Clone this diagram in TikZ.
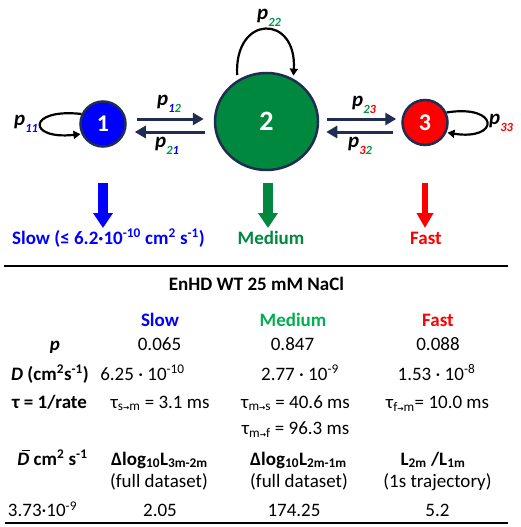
\documentclass[tikz,border=0pt]{standalone}
\usepackage{fontspec}
\setmainfont{Carlito}
\newfontfamily\djv{DejaVu Sans}
\usetikzlibrary{arrows.meta,calc,shapes.geometric}
\definecolor{navy}{RGB}{30,45,80}
\definecolor{sblue}{RGB}{0,0,255}
\definecolor{cgreen}{RGB}{0,136,62}
\definecolor{sgreen}{RGB}{0,150,70}
\definecolor{tgreen}{RGB}{0,176,80}
\definecolor{sred}{RGB}{255,0,0}
\newcommand{\plab}[2]{{\fontsize{21}{21}\selectfont\bfseries\itshape p}\raisebox{-7pt}{\fontsize{12.5}{12.5}\selectfont\bfseries\itshape #1#2}}
\newcommand{\arr}{{\djv\fontsize{7.5}{7.5}\selectfont\bfseries →}}
\newcommand{\Dbar}{\leavevmode\rlap{\kern0.22em\raisebox{0.72em}{\rule{0.42em}{0.075em}}}\textit{D}}
\begin{document}
\begin{tikzpicture}[x=1pt,y=-1pt,
  state/.style={circle, draw=navy, line width=2.5pt, inner sep=0pt, minimum size=45pt, text=white, font=\fontsize{24}{24}\selectfont\bfseries},
  trans/.style={draw=navy, line width=3pt, -{Triangle[length=11pt,width=12pt]}},
  selfloop/.style={draw=black, line width=2.2pt, -{Triangle[length=7pt,width=8pt]}},
  bigarr/.style={line width=10pt, -{Triangle[length=15pt,width=19pt]}},
  plabel/.style={anchor=base west, inner sep=0pt},
  dlabel/.style={anchor=base, inner sep=0pt, font=\fontsize{19}{19}\selectfont\bfseries},
  tab/.style={anchor=base, inner sep=0pt, font=\fontsize{19}{19}\selectfont},
  tabb/.style={tab, font=\fontsize{19}{19}\selectfont\bfseries},
  rule/.style={line width=2pt}
]
\useasboundingbox (0,0) rectangle (520,527);

% states
\node[state, fill=sblue] (n1) at (103,124) {1};
\node[state, ellipse, fill=cgreen, minimum width=103pt, minimum height=97pt, font=\fontsize{28}{28}\selectfont\bfseries] (n2) at (266.5,121.5) {2};
\node[state, fill=sred] (n3) at (425,122.5) {3};

% transitions
\draw[trans] ($(n1.east)+(10,-5)$) -- ($(n2.west)+(-10,-2.5)$);
\draw[trans] ($(n2.west)+(-9,10.5)$) -- ($(n1.east)+(8,8)$);
\draw[trans] ($(n2.east)+(8,-2.5)$) -- ($(n3.west)+(-5,-3.5)$);
\draw[trans] ($(n3.west)+(-8,9.5)$) -- ($(n2.east)+(7,10.5)$);

% self loops
\draw[selfloop, shorten >=1pt] (n1.155) .. controls (27,108) and (27,140) .. (n1.205);
\draw[selfloop, shorten <=5pt, shorten >=3pt] (n2.125) .. controls (234,14) and (297,14) .. (n2.58);
\draw[selfloop, shorten >=1pt] (n3.25) .. controls (500,104) and (500,141) .. (n3.-25);

% p labels
\node[plabel] (p11) at (14,125) {\plab{\textcolor{sblue}{1}}{\textcolor{sblue}{1}}};
\node[plabel] (p22) at (257,20) {\plab{\textcolor{sgreen}{2}}{\textcolor{sgreen}{2}}};
\node[plabel] (p33) at (489,124) {\plab{\textcolor{sred}{3}}{\textcolor{sred}{3}}};
\node[plabel] (p12) at (157,105) {\plab{\textcolor{sblue}{1}}{\textcolor{sgreen}{2}}};
\node[plabel] (p21) at (155,147) {\plab{\textcolor{sgreen}{2}}{\textcolor{sblue}{1}}};
\node[plabel] (p23) at (352,106) {\plab{\textcolor{sgreen}{2}}{\textcolor{sred}{3}}};
\node[plabel] (p32) at (348,147) {\plab{\textcolor{sred}{3}}{\textcolor{sgreen}{2}}};

% down arrows and labels
\coordinate (b1s) at (103,183); \coordinate (b1e) at (103,228);
\coordinate (b2s) at (268,183); \coordinate (b2e) at (268,228);
\coordinate (b3s) at (425,183); \coordinate (b3e) at (425,228);
\draw[bigarr, sblue] (b1s) -- (b1e);
\draw[bigarr, cgreen] (b2s) -- (b2e);
\draw[sred, line width=6pt, -{Triangle[length=15pt,width=16pt]}] (b3s) -- (b3e);
\node[dlabel, text=sblue] (lslow) at (108.5,244) {Slow (≤ 6.2·10\textsuperscript{-10} cm\textsuperscript{2} s\textsuperscript{-1})};
\node[dlabel, text=cgreen] (lmed) at (271,244) {Medium};
\node[dlabel, text=sred] (lfast) at (426,244) {Fast};

% table rules
\coordinate (r1a) at (4,266); \coordinate (r1b) at (508,266);
\coordinate (r2a) at (5,522.5); \coordinate (r2b) at (508,522.5);
\draw[rule] (r1a) -- (r1b);
\draw[rule] (r2a) -- (r2b);

% table
\node[tabb] (title) at (256.5,290) {EnHD WT 25 mM NaCl};
\node[tabb, text=sblue] (hs) at (160,326) {Slow};
\node[tabb, text=tgreen] (hm) at (293,326) {Medium};
\node[tabb, text=sred] (hf) at (438,326) {Fast};

\node[tabb] (lp) at (55,350.5) {\itshape p};
\node[tab] (vps) at (159.5,350.5) {0.065};
\node[tab] (vpm) at (292.5,350.5) {0.847};
\node[tab] (vpf) at (438,350.5) {0.088};

\node[tabb] (lD) at (50,380) {\textit{D} (cm\textsuperscript{2}s\textsuperscript{-1})};
\node[tab] (vDs) at (142.5,380) {6.25 · 10\textsuperscript{-10}};
\node[tab] (vDm) at (300,380) {2.77 · 10\textsuperscript{-9}};
\node[tab] (vDf) at (436.5,380) {1.53 · 10\textsuperscript{-8}};

\node[tabb] (lt) at (49.5,408) {τ = 1/rate};
\node[tab] (vts) at (160,408) {τ\textsubscript{s\arr m} = 3.1 ms};
\node[tab] (vtm) at (295.5,408) {τ\textsubscript{m\arr s} = 40.6 ms};
\node[tab] (vtm2) at (295.5,434) {τ\textsubscript{m\arr f} = 96.3 ms};
\node[tab] (vtf) at (437.5,408) {τ\textsubscript{f\arr m}= 10.0 ms};

\node[tabb] (lDb) at (52.5,465) {\Dbar{} cm\textsuperscript{2} s\textsuperscript{-1}};
\node[tabb] (vLs) at (159.5,465) {Δlog\textsubscript{10}L\textsubscript{3m-2m}};
\node[tabb] (vLm) at (298.5,465) {Δlog\textsubscript{10}L\textsubscript{2m-1m}};
\node[tabb] (vLf) at (433,465) {L\textsubscript{2m} /L\textsubscript{1m}};

\node[tab] (fds) at (159,487) {(full dataset)};
\node[tab] (fdm) at (299,487) {(full dataset)};
\node[tab] (fdf) at (437.5,487) {(1s trajectory)};

\node[tab] (vDb) at (42.5,516.5) {3.73·10\textsuperscript{-9}};
\node[tab] (vx1) at (160,516.5) {2.05};
\node[tab] (vx2) at (294,516.5) {174.25};
\node[tab] (vx3) at (437.5,516.5) {5.2};
\end{tikzpicture}
\end{document}
